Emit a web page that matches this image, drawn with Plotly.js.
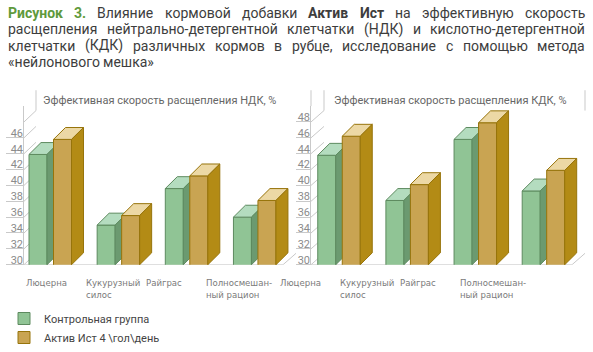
<!DOCTYPE html>
<html>
<head>
<meta charset="utf-8">
<script src="https://cdn.plot.ly/plotly-3.0.1.min.js"></script>
<style>html,body{margin:0;padding:0;background:#fff;}#chart{width:593px;height:352px;}</style>
</head>
<body>
<div id="chart"></div>
<script>
// ---------- data ----------
const categories = ['Люцерна', 'Кукурузный<br>силос', 'Райграс', 'Полносмешан-<br>ный рацион'];
const seriesNames = ['Контрольная группа', 'Актив Ист 4 \\гол\\день'];
const ndkControl = [43.9, 35.0, 39.6, 36.0];
const ndkActiv   = [45.8, 36.2, 41.2, 38.1];
const kdkControl = [43.8, 38.1, 45.8, 39.3];
const kdkActiv   = [46.2, 40.1, 47.9, 41.9];
const ndkTickLabels = [30, 32, 34, 36, 38, 40, 42, 44, 46];
const kdkTickLabels = [30, 32, 34, 36, 38, 40, 42, 44, 46, 48];
const wallGrid = [30, 32, 34, 36, 38, 40, 42, 44, 46, 48];
const panelTitles = ['Эффективная скорость расщепления НДК, %', 'Эффективная скорость расщепления КДК, %'];
const titleLines = [
  'Рисунок 3. Влияние кормовой добавки Актив Ист на эффективную скорость',
  'расщепления нейтрально-детергентной клетчатки (НДК) и кислотно-детергентной',
  'клетчатки (КДК) различных кормов в рубце, исследование с помощью метода',
  '«нейлонового мешка»'
];
const boldWords = ['Рисунок', '3.', 'Актив', 'Ист'];
const greenWords = ['Рисунок', '3.'];

// ---------- style ----------
const W = 593, H = 352;
const px = x => x / W;
const py = y => 1 - y / H;
const FONT = 'Roboto, "Noto Sans", sans-serif';
const NARROW = '"Liberation Sans Narrow", "DejaVu Sans Condensed", Roboto, sans-serif';
const GRID = '#c9c9c9';
const colors = {
  ctrl: {front: '#90c495', top: '#b4dcbf', side: '#6b9a70', line: '#5d8a5f'},
  act:  {front: '#c9a452', top: '#ecd8a5', side: '#b38b15', line: '#97740b'}
};
const S = 68.15;      // px per category step
const PXU = 8;        // px per value unit
const BASE_Y = 267;   // px of value 30 on front plane
const BAR_W = 18, BAR_OFF = 12.25, DEPTH = 12, WALL_DY = 11.5;

const panels = [
  {ctrl: ndkControl, act: ndkActiv, labels: ndkTickLabels, title: panelTitles[0],
   fx0: 24, fx1: 283, wx0: 36, wx1: 296, c0: 50.25, xEnd: 300, tickLen: 17, labelX0: 25, titleX: 42,
   wall: ['x', 'y'], g: ['x3', 'y3'], a: ['x5', 'y5']},
  {ctrl: kdkControl, act: kdkActiv, labels: kdkTickLabels, title: panelTitles[1],
   fx0: 311, fx1: 572, wx0: 324, wx1: 585, c0: 339, xEnd: 592, tickLen: 14, labelX0: 279, titleX: 333,
   wall: ['x2', 'y2'], g: ['x4', 'y4'], a: ['x6', 'y6']}
];
const key = id => id[0] + 'axis' + id.slice(1);

const data = [];
const layout = {
  width: W, height: H, margin: {l: 0, r: 0, t: 0, b: 0},
  paper_bgcolor: '#fff', plot_bgcolor: 'rgba(0,0,0,0)',
  barmode: 'overlay', showlegend: true,
  font: {family: FONT, color: '#444'},
  legend: {x: px(4), y: py(307), xanchor: 'left', yanchor: 'top', bgcolor: 'rgba(0,0,0,0)',
           font: {family: FONT, size: 11, color: '#444'}, tracegroupgap: 2, itemwidth: 30},
  shapes: [], annotations: []
};

const yTopVal = 30 + (BASE_Y - 107) / PXU; // 50

panels.forEach((p, k) => {
  const xr = [(p.fx0 - p.c0) / S, (p.xEnd - p.c0) / S];
  const yDom = [py(BASE_Y), py(107)];
  // back wall
  layout[key(p.wall[0])] = {domain: [px(p.wx0), px(p.wx1)], range: [0, 1], anchor: p.wall[1],
    showgrid: false, zeroline: false, showticklabels: false, ticks: '', showline: false, fixedrange: true};
  layout[key(p.wall[1])] = {domain: [py(BASE_Y - WALL_DY), py(BASE_Y - WALL_DY - 18 * PXU)], range: [30, 48],
    anchor: p.wall[0], tickvals: wallGrid, showgrid: true, gridcolor: GRID, gridwidth: 1,
    showticklabels: false, ticks: '', zeroline: false, showline: true, linecolor: GRID, mirror: true, fixedrange: true};
  // front plane, control group
  layout[key(p.g[0])] = {domain: [px(p.fx0), px(p.xEnd)], range: xr, anchor: p.g[1],
    showgrid: false, zeroline: false, showticklabels: false, ticks: '', showline: false, fixedrange: true};
  layout[key(p.g[1])] = {domain: yDom, range: [30, yTopVal], anchor: p.g[0],
    tickvals: p.labels, ticks: 'outside', ticklen: p.tickLen, tickcolor: GRID, tickwidth: 1,
    showticklabels: false, showgrid: false, zeroline: false, showline: true, linecolor: GRID, fixedrange: true};
  // overlay for Aktiv series + tick labels
  layout[key(p.a[0])] = {domain: [px(p.fx0), px(p.xEnd)], range: xr, anchor: p.a[1], overlaying: p.g[0],
    showgrid: false, zeroline: false, showticklabels: false, ticks: '', showline: false, fixedrange: true};
  layout[key(p.a[1])] = {domain: yDom, range: [30, yTopVal], anchor: p.a[0], overlaying: p.g[1], side: 'left',
    tickvals: p.labels, ticktext: p.labels.map(String), ticks: '', ticklabelshift: -5,
    tickfont: {family: FONT, size: 11, color: '#8c8c8c'},
    showgrid: false, zeroline: false, showline: false, fixedrange: true};

  const ddx = DEPTH / S, ddy = DEPTH / PXU, w = BAR_W / S;
  const series = [
    {vals: p.ctrl, c: colors.ctrl, ax: p.g, off: (-BAR_OFF - BAR_W / 2) / S, name: seriesNames[0]},
    {vals: p.act, c: colors.act, ax: p.a, off: (BAR_OFF - BAR_W / 2) / S, name: seriesNames[1]}
  ];
  series.forEach(s => {
    const xs = s.vals.map((_, i) => i);
    data.push({type: 'bar', x: xs, y: s.vals, xaxis: s.ax[0], yaxis: s.ax[1], name: s.name,
      offset: s.off, width: w, marker: {color: s.c.front, line: {color: s.c.line, width: 1}},
      showlegend: k === 0, hoverinfo: 'skip'});
    s.vals.forEach((v, i) => {
      const xl = i + s.off, xrr = xl + w;
      data.push({type: 'scatter', mode: 'lines', fill: 'toself', fillcolor: s.c.top,
        line: {color: s.c.line, width: 1}, xaxis: s.ax[0], yaxis: s.ax[1], showlegend: false, hoverinfo: 'skip',
        x: [xl, xrr, xrr + ddx, xl + ddx, xl], y: [v, v, v + ddy, v + ddy, v]});
      data.push({type: 'scatter', mode: 'lines', fill: 'toself', fillcolor: s.c.side,
        line: {color: s.c.line, width: 1}, xaxis: s.ax[0], yaxis: s.ax[1], showlegend: false, hoverinfo: 'skip',
        x: [xrr, xrr + ddx, xrr + ddx, xrr, xrr], y: [30, 30 + ddy, v + ddy, v, 30]});
    });
  });

  // side-wall connectors and floor edge
  const dyW = WALL_DY / PXU;
  const lineStyle = {color: GRID, width: 1};
  wallGrid.forEach(v => {
    layout.shapes.push({type: 'line', xref: 'paper', yref: p.g[1], x0: px(p.fx0), y0: v, x1: px(p.wx0), y1: v + dyW, line: lineStyle, layer: 'below'});
  });
  layout.shapes.push({type: 'line', xref: 'paper', yref: p.g[1], x0: px(p.fx0), y0: 30, x1: px(p.fx1), y1: 30, line: lineStyle, layer: 'below'});
  layout.shapes.push({type: 'line', xref: 'paper', yref: p.g[1], x0: px(p.fx1), y0: 30, x1: px(p.wx1), y1: 30 + dyW, line: lineStyle, layer: 'below'});
  // title box verticals
  layout.shapes.push({type: 'line', xref: 'paper', yref: 'paper', x0: px(p.wx0), y0: py(BASE_Y - WALL_DY - 18 * PXU), x1: px(p.wx0), y1: py(91), line: lineStyle});
  if (k === 1) {
    layout.shapes.push({type: 'line', xref: 'paper', yref: 'paper', x0: px(p.fx0), y0: py(107), x1: px(p.fx0), y1: py(91), line: lineStyle});
    layout.shapes.push({type: 'line', xref: 'paper', yref: 'paper', x0: px(p.wx1), y0: py(BASE_Y - WALL_DY - 18 * PXU), x1: px(p.wx1), y1: py(91), line: lineStyle});
  }
  // panel title
  layout.annotations.push({xref: 'paper', yref: 'paper', x: px(p.titleX), y: py(101), xanchor: 'left', yanchor: 'middle',
    text: p.title, showarrow: false, font: {family: FONT, size: 11, color: '#666'}, borderpad: 0});
  // category labels
  categories.forEach((c, i) => {
    layout.annotations.push({xref: 'paper', yref: 'paper', x: px(p.labelX0 + i * 60), y: py(278), xanchor: 'left', yanchor: 'top',
      align: 'left', text: c, showarrow: false, font: {family: NARROW, size: 9.5, color: '#7a7a7a'}, borderpad: 0});
  });
});

// ---------- justified figure caption ----------
const cv = document.createElement('canvas').getContext('2d');
const TSIZE = 14;
const measure = (t, bold) => { cv.font = (bold ? '700 ' : '400 ') + TSIZE + 'px Roboto'; return cv.measureText(t).width; };
const lineY = [13, 29.5, 46, 62.5];
const LX0 = 8, LX1 = 585;
titleLines.forEach((line, li) => {
  const words = line.split(' ');
  const isBold = wd => li === 0 && boldWords.includes(wd);
  const widths = words.map(wd => measure(wd, isBold(wd)));
  const total = widths.reduce((a, b) => a + b, 0);
  const justify = li < titleLines.length - 1;
  const gap = justify ? (LX1 - LX0 - total) / (words.length - 1) : measure(' ', false);
  let cx = LX0;
  words.forEach((wd, wi) => {
    let txt = wd;
    let col = '#3d3d3d';
    if (isBold(wd)) txt = '<b>' + wd + '</b>';
    if (li === 0 && greenWords.includes(wd)) col = '#5f9a3c';
    layout.annotations.push({xref: 'paper', yref: 'paper', x: px(cx), y: py(lineY[li]), xanchor: 'left', yanchor: 'middle',
      text: txt, showarrow: false, borderpad: 0, borderwidth: 0, font: {family: FONT, size: TSIZE, color: col}});
    cx += widths[wi] + gap;
  });
});

Plotly.newPlot('chart', data, layout, {staticPlot: true, displayModeBar: false});
</script>
</body>
</html>
